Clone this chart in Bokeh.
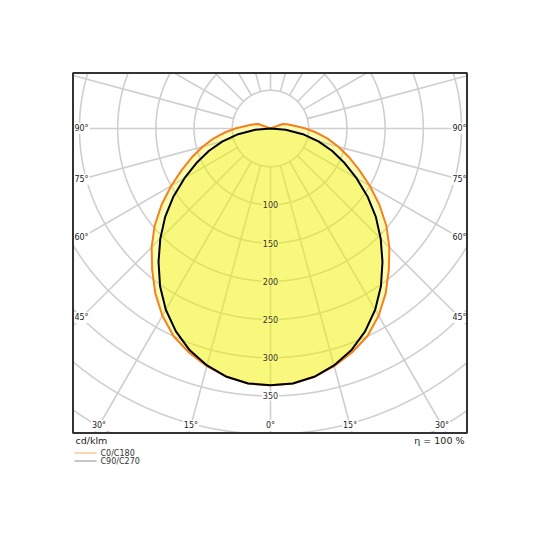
import numpy as np
from bokeh.plotting import figure
from bokeh.models import Range1d
from bokeh.core.properties import value
from bokeh.embed import file_html
from bokeh.resources import INLINE

# ---------------- data (cd/klm) ----------------
gamma_deg = list(range(0, 185, 5))  # 0..180
c0_c180 = [336, 335, 330, 322, 312, 300, 283, 263, 241, 220, 198, 174, 150,
           128, 109, 92, 76, 60, 46, 34, 27, 22, 17, 0,
           0, 0, 0, 0, 0, 0, 0, 0, 0, 0, 0, 0, 0]
c90_c270 = [336, 335, 330, 321, 309, 293, 274, 252, 228, 204, 180, 155, 130,
            107, 86, 65, 43, 20, 0,
            0, 0, 0, 0, 0, 0, 0, 0, 0, 0, 0, 0, 0, 0, 0, 0, 0, 0]
ring_values = [50, 100, 150, 200, 250, 300, 350, 400, 450, 500]
ring_labels = ["100", "150", "200", "250", "300", "350"]
spoke_angles = list(range(0, 360, 15))
side_angle_labels = [90, 75, 60, 45]
bottom_angle_labels = [30, 15, 0]
series_names = ["C0/C180", "C90/C270"]
unit_text = "cd/klm"
eta_text = "η = 100 %"

# ---------------- geometry ----------------
S = 0.764          # px per cd/klm
CX, CY = 270.0, 128.0   # pole position in the picture
W = H = 524
PAGE0 = 0.0

def X(px):
    return (px - CX) / S

def Y(py):
    return (CY - py) / S

box_l, box_r, box_t, box_b = X(72.5), X(466.5), Y(72.5), Y(432.5)

p = figure(width=W, height=H, output_backend="svg", toolbar_location=None,
           x_axis_type=None, y_axis_type=None, min_border=0,
           x_range=Range1d(X(PAGE0), X(PAGE0 + W)),
           y_range=Range1d(Y(PAGE0 + H), Y(PAGE0)))
p.outline_line_color = None
p.background_fill_color = "white"
p.border_fill_color = "white"

FONT = value("DejaVu Sans")
GRID = "#cfcfcf"
TXT = "#222222"

# ---------------- grid circles (clipped to box) ----------------
t = np.linspace(0, 2 * np.pi, 2881)
for r in ring_values:
    xs = r * np.cos(t)
    ys = r * np.sin(t)
    inside = (xs >= box_l) & (xs <= box_r) & (ys >= box_b) & (ys <= box_t)
    xs = np.where(inside, xs, np.nan)
    ys = np.where(inside, ys, np.nan)
    p.line(xs, ys, line_color=GRID, line_width=1.6)

# ---------------- spokes ----------------
x0s, y0s, x1s, y1s = [], [], [], []
r0 = ring_values[0]
for a in spoke_angles:
    ar = np.radians(a)
    dx, dy = np.sin(ar), -np.cos(ar)
    tx = box_r / dx if dx > 1e-9 else (box_l / dx if dx < -1e-9 else np.inf)
    ty = box_t / dy if dy > 1e-9 else (box_b / dy if dy < -1e-9 else np.inf)
    tm = min(tx, ty)
    x0s.append(r0 * dx); y0s.append(r0 * dy)
    x1s.append(tm * dx); y1s.append(tm * dy)
p.segment(x0s, y0s, x1s, y1s, line_color=GRID, line_width=1.6)

# ---------------- value labels ----------------
ring_r = [float(s) for s in ring_labels]
vx = [0.0] * len(ring_r)
vy = [-r for r in ring_r]
# white knock-out boxes under the fill (hide grid behind the numbers)
p.text(x=vx, y=vy, text=ring_labels,
       text_font=FONT, text_font_size=value("8px"), text_color="white",
       text_align="center", text_baseline="middle",
       background_fill_color="white", padding=1)

# angle labels
side_off = 189.0 / S
lx, ly, lt = [], [], []
for a in side_angle_labels:
    yy = 0.0 if a == 90 else -side_off / np.tan(np.radians(a))
    for sgn in (-1, 1):
        lx.append(sgn * side_off); ly.append(yy); lt.append(f"{a}°")
bot_off = 297.0 / S
for a in bottom_angle_labels:
    xx = bot_off * np.tan(np.radians(a))
    for sgn in ((-1, 1) if a != 0 else (1,)):
        lx.append(sgn * xx); ly.append(-bot_off); lt.append(f"{a}°")
p.text(x=lx, y=ly, text=lt, text_font=FONT, text_font_size=value("8px"),
       text_color=TXT, text_align="center", text_baseline="middle",
       background_fill_color="white", padding=1)

# ---------------- curves ----------------
def outline(vals):
    g = np.radians(np.array(gamma_deg, dtype=float))
    v = np.array(vals, dtype=float)
    xr, yr = v * np.sin(g), -v * np.cos(g)
    xs = np.concatenate([xr, -xr[::-1]])
    ys = np.concatenate([yr, yr[::-1]])
    return xs, ys

xo, yo = outline(c0_c180)
xb, yb = outline(c90_c270)
FILL = "#f2f200"
p.patch(xo, yo, fill_color=FILL, fill_alpha=0.3, line_color=None)
p.patch(xb, yb, fill_color=FILL, fill_alpha=0.3, line_color=None)

# numbers drawn on top of the fill
p.text(x=vx, y=vy, text=ring_labels,
       text_font=FONT, text_font_size=value("8px"), text_color="#333333",
       text_align="center", text_baseline="middle")

ORANGE = "#f5801e"
p.line(xo, yo, line_color=ORANGE, line_width=2)
p.line(xb, yb, line_color="black", line_width=2)

# ---------------- frame ----------------
p.quad(left=[box_l], right=[box_r], top=[box_t], bottom=[box_b],
       fill_color=None, line_color="#333333", line_width=2)

# ---------------- texts below frame ----------------
p.text(x=[X(75)], y=[Y(440)], text=[unit_text], text_font=FONT,
       text_font_size=value("9.5px"), text_color=TXT,
       text_align="left", text_baseline="middle")
p.text(x=[X(464)], y=[Y(440)], text=[eta_text], text_font=FONT,
       text_font_size=value("9.5px"), text_color=TXT,
       text_align="right", text_baseline="middle")

leg_y = [Y(452.5), Y(460.5)]
p.segment(x0=[X(74)] * 2, y0=leg_y, x1=[X(96)] * 2, y1=leg_y,
          line_color=["#f8b062", "#8c8c8c"], line_width=1)
p.text(x=[X(100)] * 2, y=leg_y, text=series_names, text_font=FONT,
       text_font_size=value("8px"), text_color="#333333",
       text_align="left", text_baseline="middle")

open("out.html", "w").write(file_html(p, INLINE))
